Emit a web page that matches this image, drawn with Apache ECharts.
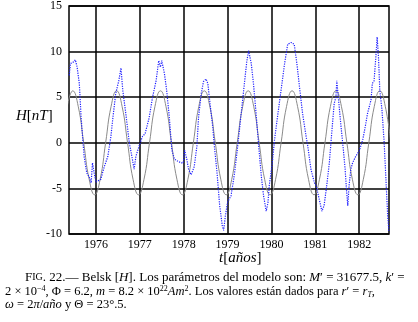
<!DOCTYPE html>
<html>
<head>
<meta charset="utf-8">
<script src="https://cdn.jsdelivr.net/npm/echarts@6/dist/echarts.min.js"></script>
<style>
  html, body { margin: 0; background: #fff; }
  #chart { width: 418px; height: 322px; }
</style>
</head>
<body>
<div id="chart"></div>
<script>
// ejes
var yearTicks = [1976, 1977, 1978, 1979, 1980, 1981, 1982]
var yTicks = [-10, -5, 0, 5, 10, 15]

var obsT = [1975.39, 1975.42, 1975.47, 1975.53, 1975.57, 1975.62, 1975.66, 1975.70, 1975.73, 1975.79,
  1975.85, 1975.89, 1975.92, 1975.96, 1976.00, 1976.04, 1976.11, 1976.19, 1976.27, 1976.34,
  1976.38, 1976.45, 1976.52, 1976.57, 1976.61, 1976.68, 1976.76, 1976.83, 1976.87, 1976.91,
  1976.98, 1977.06, 1977.12, 1977.21, 1977.29, 1977.37, 1977.43, 1977.47, 1977.50, 1977.56,
  1977.61, 1977.67, 1977.73, 1977.79, 1977.86, 1977.94, 1977.99, 1978.02, 1978.07, 1978.11,
  1978.17, 1978.24, 1978.30, 1978.34, 1978.40, 1978.45, 1978.51, 1978.55, 1978.60, 1978.66,
  1978.70, 1978.76, 1978.82, 1978.88, 1978.91, 1978.95, 1979.00, 1979.08, 1979.16, 1979.23,
  1979.31, 1979.39, 1979.44, 1979.48, 1979.54, 1979.59, 1979.65, 1979.71, 1979.77, 1979.82,
  1979.88, 1979.92, 1979.95, 1980.02, 1980.07, 1980.14, 1980.22, 1980.30, 1980.37, 1980.45,
  1980.52, 1980.58, 1980.64, 1980.71, 1980.79, 1980.83, 1980.90, 1980.98, 1981.02, 1981.09,
  1981.15, 1981.20, 1981.26, 1981.32, 1981.38, 1981.43, 1981.47, 1981.49, 1981.53, 1981.58,
  1981.64, 1981.68, 1981.71, 1981.74, 1981.77, 1981.81, 1981.85, 1981.92, 1982.00, 1982.08,
  1982.14, 1982.19, 1982.27, 1982.30, 1982.34, 1982.38, 1982.41, 1982.44, 1982.47, 1982.52,
  1982.57, 1982.61, 1982.65, 1982.68]
var obsH = [7.4, 8.7, 8.8, 9.1, 8.3, 6.5, 2.9, 0.3, -1.5, -3.3,
  -3.8, -4.4, -2.2, -3.3, -4.3, -4.2, -4.0, -2.6, -1.5, 0.7,
  2.5, 5.4, 6.8, 8.2, 5.8, 3.2, 0.0, -1.8, -2.9, -1.5,
  -0.4, 0.7, 1.0, 2.7, 5.0, 6.8, 9.0, 8.3, 9.0, 7.6,
  5.8, 2.9, -0.8, -1.8, -2.0, -2.2, -2.2, -0.8, -1.8, -2.9,
  -3.5, -2.6, -0.4, 2.9, 5.4, 6.7, 7.0, 6.5, 4.3, 1.8,
  -0.4, -3.3, -6.9, -9.1, -9.6, -8.0, -6.5, -5.8, -3.3, -0.4,
  3.2, 6.8, 9.0, 10.1, 8.7, 6.5, 3.2, -0.4, -3.7, -5.8,
  -7.5, -6.6, -4.7, -2.2, 0.3, 2.9, 5.8, 8.7, 10.8, 11.0,
  10.8, 8.7, 6.1, 3.2, 0.7, -0.4, -2.9, -4.4, -4.7, -6.2,
  -7.5, -6.9, -4.7, -2.2, 1.4, 4.3, 5.0, 6.8, 4.7, 2.1,
  -0.8, -2.9, -5.1, -6.9, -4.7, -2.9, -2.2, -1.5, -0.9, 0.3,
  1.8, 3.2, 4.7, 6.5, 6.8, 9.4, 11.6, 9.4, 5.8, 3.6,
  0.0, -4.0, -8.0, -9.8]

// curva del modelo
var modT = [1975.345, 1975.47, 1975.595, 1975.72, 1975.845, 1975.97,
  1976.095, 1976.22, 1976.345, 1976.47, 1976.595, 1976.72, 1976.845, 1976.97,
  1977.095, 1977.22, 1977.345, 1977.47, 1977.595, 1977.72, 1977.845, 1977.97,
  1978.095, 1978.22, 1978.345, 1978.47, 1978.595, 1978.72, 1978.845, 1978.97,
  1979.095, 1979.22, 1979.345, 1979.47, 1979.595, 1979.72, 1979.845, 1979.97,
  1980.095, 1980.22, 1980.345, 1980.47, 1980.595, 1980.72, 1980.845, 1980.97,
  1981.095, 1981.22, 1981.345, 1981.47, 1981.595, 1981.72, 1981.845, 1981.97,
  1982.095, 1982.22, 1982.345, 1982.47, 1982.595, 1982.72]
var modH = [4.0, 5.7, 4.0, 0, -4.0, -5.7,
  -4.0, 0, 4.0, 5.7, 4.0, 0, -4.0, -5.7,
  -4.0, 0, 4.0, 5.7, 4.0, 0, -4.0, -5.7,
  -4.0, 0, 4.0, 5.7, 4.0, 0, -4.0, -5.7,
  -4.0, 0, 4.0, 5.7, 4.0, 0, -4.0, -5.7,
  -4.0, 0, 4.0, 5.7, 4.0, 0, -4.0, -5.7,
  -4.0, 0, 4.0, 5.7, 4.0, 0, -4.0, -5.7,
  -4.0, 0, 4.0, 5.7, 4.0, 0]

var serif = 'Liberation Serif'

var chart = echarts.init(document.getElementById('chart'))
var option = {
  animation: false,
  grid: {
    left: 69,
    right: 29,
    top: 5,
    bottom: 88,
    show: true,
    borderColor: '#000',
    borderWidth: 1.5,
  },
  xAxis: {
    type: 'value',
    min: 1975.385,
    max: 1982.68,
    axisLine: { show: false },
    axisTick: { show: false, customValues: yearTicks },
    axisLabel: {
      customValues: yearTicks,
      formatter: function (v) { return String(v) },
      color: '#000',
      fontFamily: serif,
      fontSize: 12,
      margin: 5,
    },
    splitLine: { show: true, lineStyle: { color: '#000', width: 1.5 } },
  },
  yAxis: {
    type: 'value',
    min: yTicks[0],
    max: yTicks[yTicks.length - 1],
    interval: 5,
    axisLine: { show: false },
    axisTick: { show: false },
    axisLabel: {
      color: '#000',
      fontFamily: serif,
      fontSize: 12,
      margin: 7,
    },
    splitLine: { show: true, lineStyle: { color: '#000', width: 1.5 } },
  },
  series: [
    {
      type: 'line',
      data: modT.map(function (t, i) { return [t, modH[i]] }),
      smooth: 0.5,
      symbol: 'none',
      lineStyle: { color: '#8a8a8a', width: 1 },
      z: 2,
    },
    {
      type: 'line',
      data: obsT.map(function (t, i) { return [t, obsH[i]] }),
      symbol: 'none',
      lineStyle: { color: '#1e1eff', width: 1.2, type: 'dotted' },
      z: 3,
    },
  ],
  graphic: [
    {
      type: 'text',
      left: 16,
      top: 109,
      style: {
        text: '{i|H}{r|[}{i|nT}{r|]}',
        fill: '#000',
        rich: {
          i: { fontStyle: 'italic', fontFamily: serif, fontSize: 15 },
          r: { fontFamily: serif, fontSize: 15 },
        },
      },
    },
    {
      type: 'text',
      left: 219,
      top: 251,
      style: {
        text: '{i|t}{r|[}{i|años}{r|]}',
        fill: '#000',
        rich: {
          i: { fontStyle: 'italic', fontFamily: serif, fontSize: 15 },
          r: { fontFamily: serif, fontSize: 15 },
        },
      },
    },
    {
      type: 'text',
      left: 25,
      top: 271,
      style: {
        text: '{r|F}{sc|IG}{r|. 22.— Belsk [}{i|H}{r|]. Los parámetros del modelo son: }{i|M}{r|′ = 31677.5, }{i|k}{r|′ =}',
        fill: '#000',
        rich: {
          r: { fontFamily: serif, fontSize: 13 },
          i: { fontStyle: 'italic', fontFamily: serif, fontSize: 13 },
          sc: { fontFamily: serif, fontSize: 10 },
        },
      },
    },
    {
      type: 'text',
      left: 5,
      top: 285,
      style: {
        text: '{r|2 × 10}{sup|−4}{r|, Φ = 6.2, }{i|m}{r| = 8.2 × 10}{sup|22}{i|Am}{sup|2}{r|. Los valores están dados para }{i|r}{r|′ = }{i|r}{sub|T}{r|,}',
        fill: '#000',
        rich: {
          r: { fontFamily: serif, fontSize: 12.5 },
          i: { fontStyle: 'italic', fontFamily: serif, fontSize: 12.5 },
          sup: { fontFamily: serif, fontSize: 8, verticalAlign: 'top', lineHeight: 14 },
          sub: { fontFamily: serif, fontSize: 8, fontStyle: 'italic', verticalAlign: 'bottom', lineHeight: 14 },
        },
      },
    },
    {
      type: 'text',
      left: 5,
      top: 298,
      style: {
        text: '{i|ω}{r| = 2}{i|π}{r|/}{i|año}{r| y Θ = 23°.5.}',
        fill: '#000',
        rich: {
          r: { fontFamily: serif, fontSize: 12.5 },
          i: { fontStyle: 'italic', fontFamily: serif, fontSize: 12.5 },
        },
      },
    },
  ],
}
chart.setOption(option)
</script>
</body>
</html>
